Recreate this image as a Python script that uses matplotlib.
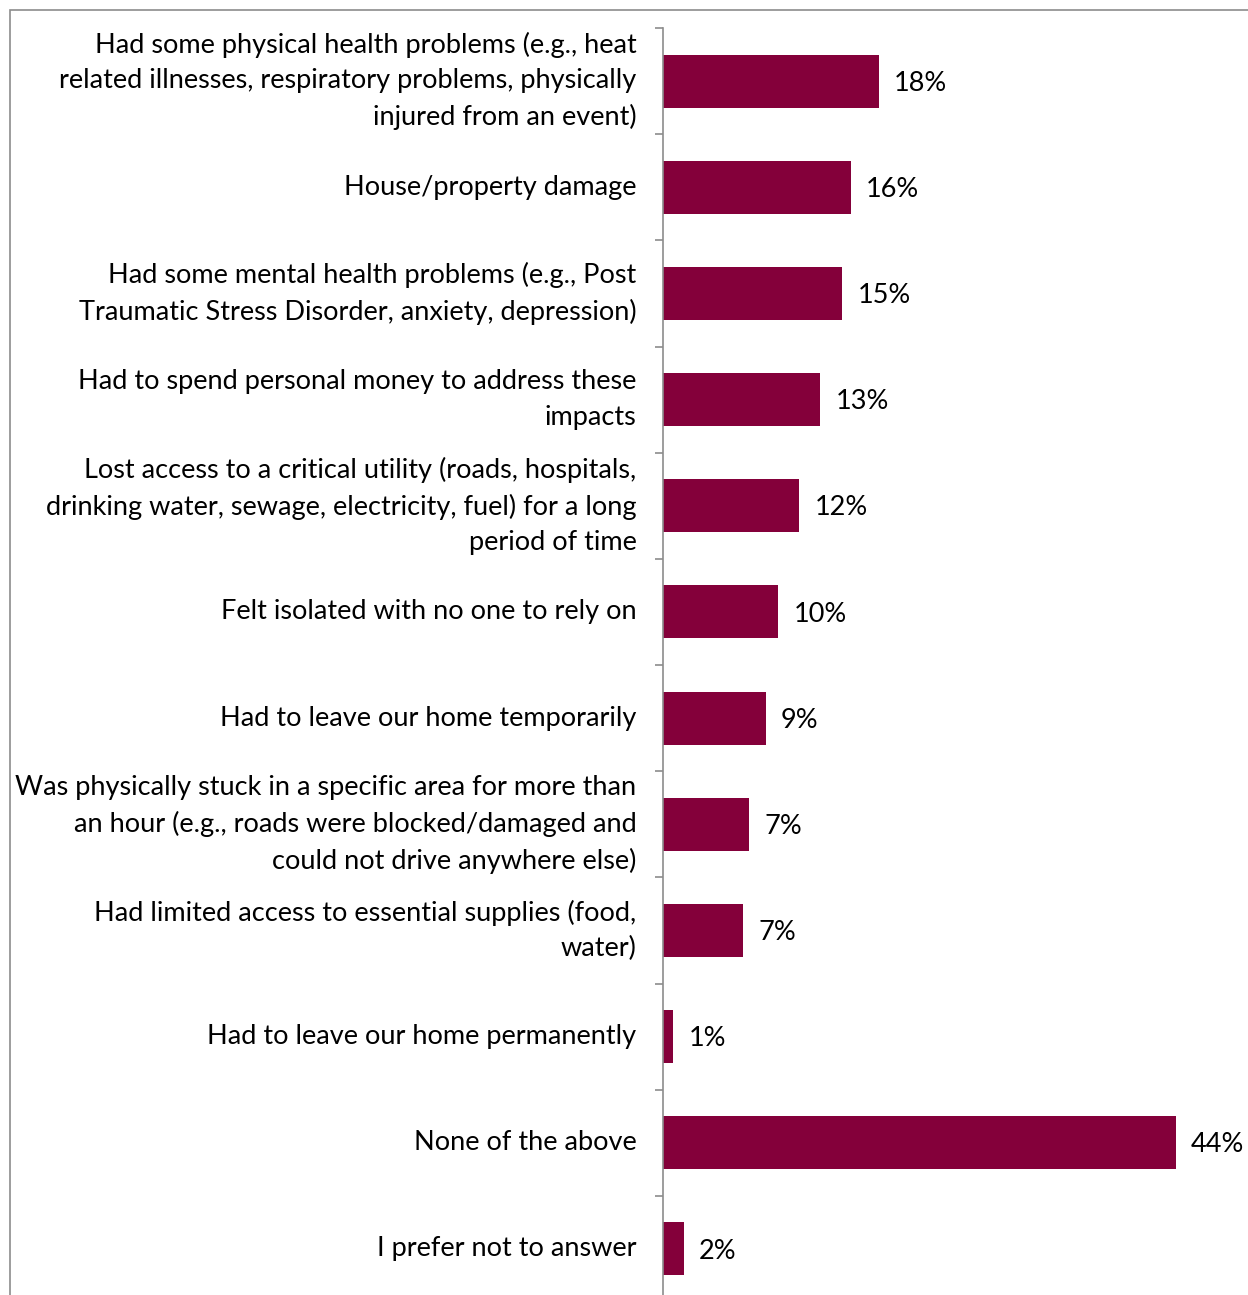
import matplotlib.pyplot as plt
from matplotlib.patches import Rectangle
from matplotlib.ticker import FixedLocator

plt.rcParams['font.family'] = ['Lato', 'DejaVu Sans']

categories = [
    "Had some physical health problems (e.g., heat\nrelated illnesses, respiratory problems, physically\ninjured from an event)",
    "House/property damage",
    "Had some mental health problems (e.g., Post\nTraumatic Stress Disorder, anxiety, depression)",
    "Had to spend personal money to address these\nimpacts",
    "Lost access to a critical utility (roads, hospitals,\ndrinking water, sewage, electricity, fuel) for a long\nperiod of time",
    "Felt isolated with no one to rely on",
    "Had to leave our home temporarily",
    "Was physically stuck in a specific area for more than\nan hour (e.g., roads were blocked/damaged and\ncould not drive anywhere else)",
    "Had limited access to essential supplies (food,\nwater)",
    "Had to leave our home permanently",
    "None of the above",
    "I prefer not to answer",
]
values = [18.5, 16.1, 15.4, 13.5, 11.7, 9.9, 8.8, 7.4, 6.9, 0.9, 44.0, 1.8]
labels = ["18%", "16%", "15%", "13%", "12%", "10%", "9%", "7%", "7%", "1%", "44%", "2%"]

fig = plt.figure(figsize=(12.48, 12.95), dpi=100)

# outer frame of the original chart box
fig.patches.append(Rectangle((10 / 1248, -0.1), 1.2, 1 - 10 / 1295 + 0.1,
                             transform=fig.transFigure, fill=False,
                             edgecolor='#8c8c8c', linewidth=1.2))

ax = fig.add_axes([663 / 1248, -7 / 1295, 1 - 663 / 1248, 1274 / 1295])
n = len(categories)
pos = list(range(n))
ax.barh(pos, values, height=0.5, color='#84003A')
ax.set_ylim(n - 0.5, -0.5)
ax.set_xlim(0, 50.2)

for p, v, t in zip(pos, values, labels):
    ax.text(v + 1.3, p + 0.02, t, va='center', ha='left', fontsize=19.5, color='black')

ax.yaxis.set_major_locator(FixedLocator([i - 0.5 for i in range(n + 1)]))
ax.yaxis.set_minor_locator(FixedLocator(pos))
ax.set_yticklabels([], minor=False)
ax.set_yticklabels(categories, minor=True, fontsize=19.5, linespacing=1.52, va='center')
ax.tick_params(axis='y', which='major', length=6, color='#8c8c8c', width=1.2)
ax.tick_params(axis='y', which='minor', length=0, pad=19)
ax.set_xticks([])

for s in ['top', 'right', 'bottom']:
    ax.spines[s].set_visible(False)
ax.spines['left'].set_color('#8c8c8c')
ax.spines['left'].set_linewidth(1.2)
ax.set_facecolor('none')

fig.savefig('out.png', dpi=100)
